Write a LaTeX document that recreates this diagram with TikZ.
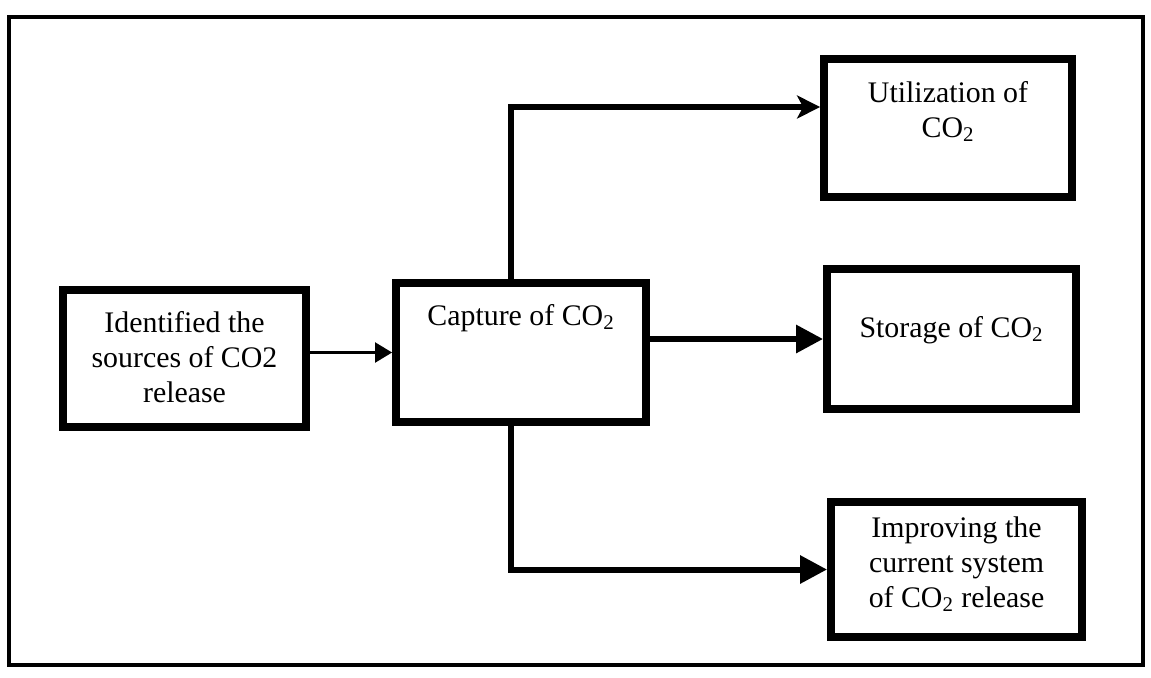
\documentclass[tikz,border=0pt]{standalone}
\usepackage{fontspec}
\setmainfont{Liberation Serif}
\usetikzlibrary{arrows.meta}
\tikzset{
  box/.style={draw, line width=4.5pt, inner sep=0pt, align=center,
    font=\fontsize{17}{19.9}\selectfont},
  flow/.style={line width=3.4pt, -{Triangle[length=0.54cm,width=0.54cm]}},
}
\begin{document}
\begin{tikzpicture}[x=0.02cm,y=-0.02cm]
	\useasboundingbox (0,0) rectangle (1151,677);
	%% frame
	\draw[line width=2.8pt] (9,17) rectangle (1143,665);
	%% boxes
	\node[box, minimum width=4.86cm, text height=2.24cm, text depth=0.50cm] (src) at (184.5,358.5) {Identified the\\sources of CO2\\release};
	\node[box, minimum width=5.00cm, text height=0.84cm, text depth=1.94cm] (cap) at (521,352.5) {Capture of CO\textsubscript{2}};
	\node[box, minimum width=4.96cm, text height=1.56cm, text depth=1.20cm] (util) at (948,128) {Utilization of\\CO\textsubscript{2}};
	\node[box, minimum width=4.98cm, text height=1.36cm, text depth=1.44cm] (stor) at (951.5,339) {Storage of CO\textsubscript{2}};
	\node[box, minimum width=5.02cm, text height=2.10cm, text depth=0.60cm] (impr) at (956.5,569.5) {Improving the\\current system\\of CO\textsubscript{2} release};
	%% arrows
	\draw[line width=1.2pt, -{Triangle[length=0.34cm,width=0.4cm]}] (src.east |- cap.west) -- (cap.west);
	\coordinate (split) at ([xshift=-0.2cm]cap.center);
	\draw[flow, -{Stealth[length=0.46cm,width=0.46cm,inset=0.12cm]}] (split |- cap.north) |- ([yshift=0.42cm]util.west);
	\draw[flow] (cap.east |- stor.west) -- (stor.west);
	\draw[flow] (split |- cap.south) |- (impr.west);
\end{tikzpicture}
\end{document}
